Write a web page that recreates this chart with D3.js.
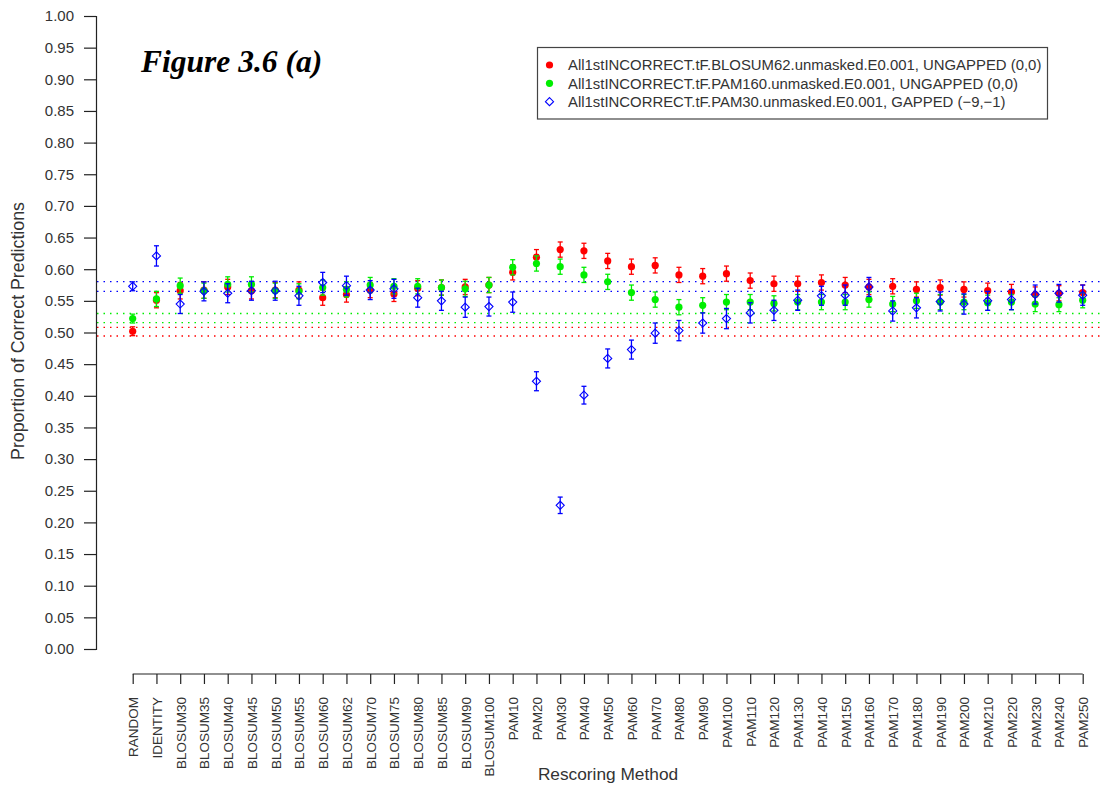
<!DOCTYPE html>
<html>
<head>
<meta charset="utf-8">
<script src="https://cdn.jsdelivr.net/npm/d3@7"></script>
<style>
  html, body { margin: 0; padding: 0; background: #fff; }
  svg { display: block; font-family: "Liberation Sans", Arial, sans-serif; }
</style>
</head>
<body>
<svg id="chart" width="1112" height="790"></svg>
<script>
// Rescoring methods along the x axis
const categories = [
  "RANDOM", "IDENTITY",
  "BLOSUM30", "BLOSUM35", "BLOSUM40", "BLOSUM45", "BLOSUM50", "BLOSUM55",
  "BLOSUM60", "BLOSUM62", "BLOSUM70", "BLOSUM75", "BLOSUM80", "BLOSUM85",
  "BLOSUM90", "BLOSUM100",
  "PAM10", "PAM20", "PAM30", "PAM40", "PAM50", "PAM60", "PAM70", "PAM80",
  "PAM90", "PAM100", "PAM110", "PAM120", "PAM130", "PAM140", "PAM150",
  "PAM160", "PAM170", "PAM180", "PAM190", "PAM200", "PAM210", "PAM220",
  "PAM230", "PAM240", "PAM250"
];

// Proportion of correct predictions, one value per method
const blosum62Ungapped = [
  0.502, 0.551, 0.566, 0.567, 0.572, 0.566, 0.567, 0.567,
  0.555, 0.560, 0.567, 0.561, 0.570, 0.571, 0.572, 0.575,
  0.595, 0.619, 0.631, 0.629, 0.613, 0.604, 0.606, 0.591,
  0.589, 0.593, 0.582, 0.577, 0.577, 0.579, 0.575, 0.572,
  0.573, 0.568, 0.571, 0.568, 0.566, 0.564, 0.560, 0.562, 0.563
];
const pam160Ungapped = [
  0.522, 0.553, 0.574, 0.566, 0.576, 0.576, 0.566, 0.565,
  0.571, 0.568, 0.575, 0.573, 0.573, 0.571, 0.569, 0.575,
  0.603, 0.609, 0.604, 0.591, 0.580, 0.563, 0.552, 0.540,
  0.543, 0.548, 0.548, 0.546, 0.548, 0.548, 0.548, 0.552,
  0.545, 0.550, 0.548, 0.548, 0.547, 0.548, 0.545, 0.544, 0.551
];
const pam30Gapped = [
  0.573, 0.621, 0.545, 0.565, 0.562, 0.566, 0.566, 0.558,
  0.579, 0.574, 0.567, 0.569, 0.555, 0.550, 0.540, 0.541,
  0.548, 0.423, 0.227, 0.401, 0.459, 0.473, 0.499, 0.503,
  0.515, 0.522, 0.531, 0.535, 0.551, 0.558, 0.559, 0.572,
  0.534, 0.539, 0.549, 0.545, 0.550, 0.552, 0.560, 0.562, 0.559
];

// Half-widths of the confidence intervals
const blosum62Err = [
  0.007, 0.012, 0.013, 0.013, 0.012, 0.013, 0.012, 0.013,
  0.012, 0.012, 0.012, 0.012, 0.012, 0.012, 0.012, 0.012,
  0.012, 0.012, 0.012, 0.012, 0.012, 0.012, 0.012, 0.012,
  0.012, 0.012, 0.012, 0.012, 0.012, 0.012, 0.012, 0.012,
  0.012, 0.012, 0.012, 0.012, 0.012, 0.012, 0.012, 0.012, 0.012
];
const pam160Err = [
  0.007, 0.012, 0.012, 0.012, 0.012, 0.012, 0.012, 0.012,
  0.012, 0.012, 0.012, 0.012, 0.012, 0.012, 0.012, 0.012,
  0.012, 0.012, 0.012, 0.012, 0.012, 0.012, 0.012, 0.012,
  0.012, 0.012, 0.012, 0.012, 0.012, 0.012, 0.012, 0.012,
  0.012, 0.012, 0.012, 0.012, 0.012, 0.012, 0.012, 0.011, 0.012
];
const pam30Err = [
  0.007, 0.016, 0.015, 0.015, 0.015, 0.015, 0.015, 0.015,
  0.016, 0.015, 0.015, 0.015, 0.015, 0.015, 0.016, 0.015,
  0.016, 0.015, 0.013, 0.014, 0.015, 0.015, 0.016, 0.016,
  0.016, 0.016, 0.016, 0.016, 0.016, 0.015, 0.016, 0.015,
  0.016, 0.016, 0.015, 0.016, 0.015, 0.016, 0.015, 0.014, 0.016
];

// Reference band (RANDOM interval) for each series
const randomBandLow  = [0.4945, 0.5155, 0.5651];
const randomBandHigh = [0.5082, 0.5300, 0.5803];

const seriesNames = [
  "All1stINCORRECT.tF.BLOSUM62.unmasked.E0.001, UNGAPPED (0,0)",
  "All1stINCORRECT.tF.PAM160.unmasked.E0.001, UNGAPPED (0,0)",
  "All1stINCORRECT.tF.PAM30.unmasked.E0.001, GAPPED (\u22129,\u22121)"
];
const seriesColors = ["#ff0000", "#00ee00", "#0000ff"];
const seriesShapes = ["circle", "circle", "diamond"];
const seriesValues = [blosum62Ungapped, pam160Ungapped, pam30Gapped];
const seriesErrors = [blosum62Err, pam160Err, pam30Err];

const yTicks = d3.range(0, 21).map(i => i * 0.05);

const svg = d3.select("#chart");

const x = d3.scalePoint().domain(categories).range([132.7, 1082.7]);
const y = d3.scaleLinear().domain([0, 1]).range([649, 16]);
const plotLeft = 97, plotRight = 1103;

// Dotted reference lines
const bandLines = [];
seriesColors.forEach((c, i) => {
  bandLines.push({ v: randomBandLow[i], c });
  bandLines.push({ v: randomBandHigh[i], c });
});
svg.append("g").selectAll("line").data(bandLines).join("line")
  .attr("x1", plotLeft).attr("x2", plotRight)
  .attr("y1", d => y(d.v)).attr("y2", d => y(d.v))
  .attr("stroke", d => d.c)
  .attr("stroke-width", 1.3)
  .attr("stroke-dasharray", "1.5,5");

// Y axis
const yAxis = d3.axisLeft(y).tickValues(yTicks).tickFormat(d3.format(".2f")).tickSize(12).tickPadding(10);
const gy = svg.append("g").attr("transform", "translate(96,0)").call(yAxis);
gy.select(".domain").attr("stroke", "#222").attr("stroke-width", 1.2);
gy.selectAll(".tick line").attr("stroke", "#222").attr("stroke-width", 1.2);
gy.selectAll(".tick text").attr("font-size", 15).attr("fill", "#333")
  .attr("font-family", "Liberation Sans, Arial, sans-serif");

// X axis
const xAxis = d3.axisBottom(x).tickSize(10).tickSizeOuter(0);
const gx = svg.append("g").attr("transform", "translate(0,674)").call(xAxis);
gx.select(".domain").attr("stroke", "#222").attr("stroke-width", 1.2)
  .attr("d", `M${x(categories[0])},0H${x(categories[categories.length - 1])}`);
gx.selectAll(".tick line").attr("stroke", "#222").attr("stroke-width", 1.2);
gx.selectAll(".tick text")
  .attr("font-size", 13.5).attr("fill", "#333")
  .attr("font-family", "Liberation Sans, Arial, sans-serif")
  .attr("text-anchor", "end")
  .attr("transform", "translate(4.8,23) rotate(-90)")
  .attr("x", 0).attr("y", 0).attr("dy", 0);

// Axis titles
svg.append("text")
  .attr("x", 608).attr("y", 780)
  .attr("text-anchor", "middle")
  .attr("font-size", 17.3).attr("fill", "#333")
  .text("Rescoring Method");
svg.append("text")
  .attr("transform", "translate(24,331) rotate(-90)")
  .attr("text-anchor", "middle")
  .attr("font-size", 17.8).attr("fill", "#333")
  .text("Proportion of Correct Predictions");

// Error bars and markers, drawn series by series
const capHalf = 2.5;
seriesValues.forEach((vals, s) => {
  const errs = seriesErrors[s];
  const color = seriesColors[s];
  const pts = categories.map((c, i) => ({ c, v: vals[i], e: errs[i] }));
  const g = svg.append("g");
  const bars = g.selectAll("g.bar").data(pts).join("g").attr("class", "bar");
  bars.append("line")
    .attr("x1", d => x(d.c)).attr("x2", d => x(d.c))
    .attr("y1", d => y(d.v - d.e)).attr("y2", d => y(d.v + d.e))
    .attr("stroke", color).attr("stroke-width", 1.3);
  bars.append("line")
    .attr("x1", d => x(d.c) - capHalf).attr("x2", d => x(d.c) + capHalf)
    .attr("y1", d => y(d.v + d.e)).attr("y2", d => y(d.v + d.e))
    .attr("stroke", color).attr("stroke-width", 1.3);
  bars.append("line")
    .attr("x1", d => x(d.c) - capHalf).attr("x2", d => x(d.c) + capHalf)
    .attr("y1", d => y(d.v - d.e)).attr("y2", d => y(d.v - d.e))
    .attr("stroke", color).attr("stroke-width", 1.3);
  if (seriesShapes[s] === "circle") {
    g.selectAll("circle").data(pts).join("circle")
      .attr("cx", d => x(d.c)).attr("cy", d => y(d.v)).attr("r", 3.6)
      .attr("fill", color);
  } else {
    const sym = d3.symbol().type(d3.symbolDiamond2).size(42);
    g.selectAll("path.mk").data(pts).join("path").attr("class", "mk")
      .attr("d", sym)
      .attr("transform", d => `translate(${x(d.c)},${y(d.v)})`)
      .attr("fill", "none").attr("stroke", color).attr("stroke-width", 1.1);
  }
});

// Legend
const legend = svg.append("g");
legend.append("rect")
  .attr("x", 537.5).attr("y", 47.5).attr("width", 510).attr("height", 71.5)
  .attr("fill", "#fff").attr("stroke", "#444").attr("stroke-width", 1.2);
const legendRows = [65, 83.3, 101.7];
seriesNames.forEach((name, i) => {
  if (seriesShapes[i] === "circle") {
    legend.append("circle").attr("cx", 549.5).attr("cy", legendRows[i]).attr("r", 3.6)
      .attr("fill", seriesColors[i]);
  } else {
    legend.append("path").attr("d", d3.symbol().type(d3.symbolDiamond2).size(42))
      .attr("transform", `translate(549.5,${legendRows[i]})`)
      .attr("fill", "none").attr("stroke", seriesColors[i]).attr("stroke-width", 1.1);
  }
  legend.append("text")
    .attr("x", 568).attr("y", legendRows[i]).attr("dy", "0.36em")
    .attr("font-size", 14.9).attr("fill", "#333")
    .text(name);
});

// Figure label
svg.append("text")
  .attr("x", 141).attr("y", 72)
  .attr("font-family", "Liberation Serif, Times New Roman, serif")
  .attr("font-weight", "bold").attr("font-style", "italic")
  .attr("font-size", 31.5)
  .attr("fill", "#000")
  .text("Figure 3.6 (a)");
</script>
</body>
</html>
